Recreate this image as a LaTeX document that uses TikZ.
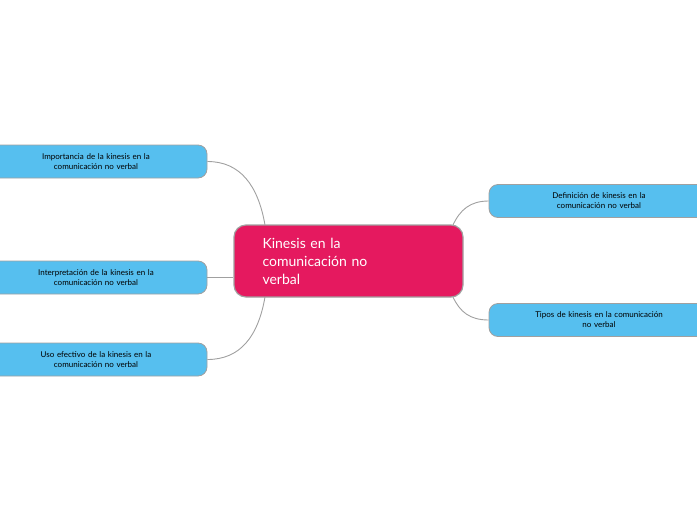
\documentclass[tikz,border=0pt]{standalone}
\usepackage{fontspec}
\setmainfont{Lato}
\definecolor{mag}{HTML}{E5195F}
\definecolor{sky}{HTML}{56BFEF}
\definecolor{edge}{HTML}{A0A0A0}
\begin{document}
\begin{tikzpicture}[x=1pt,y=-1pt,
  leaf/.style={draw=edge,line width=0.8pt,fill=sky,rounded corners=9pt,minimum height=33pt,align=center,font=\fontsize{8}{10}\selectfont,text width=190pt},
  conn/.style={draw=edge,line width=0.9pt}]
\useasboundingbox (0,0) rectangle (697,520);
\node[draw=edge,line width=1.2pt,fill=mag,rounded corners=12pt,minimum width=229pt,minimum height=72pt,text width=200pt,align=left,text=white,font=\fontsize{14}{18}\selectfont] (c) at (348.5,261) {\hspace*{14pt}\parbox{140pt}{Kinesis en la\\comunicación no\\verbal}};
\node[leaf,minimum width=222pt] (l1) at (96,161.5) {Importancia de la kinesis en la\\comunicación no verbal};
\node[leaf,minimum width=222pt] (l2) at (96,277.5) {Interpretación de la kinesis en la\\comunicación no verbal};
\node[leaf,minimum width=222pt] (l3) at (96,359.5) {Uso efectivo de la kinesis en la\\comunicación no verbal};
\node[leaf,minimum width=220pt] (r1) at (599,201) {Definición de kinesis en la\\comunicación no verbal};
\node[leaf,minimum width=220pt] (r2) at (599,320) {Tipos de kinesis en la comunicación\\no verbal};
\coordinate (a1) at (265,225);\coordinate (a3) at (265,297);
\coordinate (b1) at (453,225);\coordinate (b2) at (453,297);
\draw[conn] (a1) .. controls (258,185) and (240,161.5) .. (l1.east);
\draw[conn] (c.west |- l2.east) -- (l2.east);
\draw[conn] (a3) .. controls (258,337) and (240,359.5) .. (l3.east);
\draw[conn] (b1) .. controls (460,210) and (470,201) .. (r1.west);
\draw[conn] (b2) .. controls (460,312) and (470,320) .. (r2.west);
\end{tikzpicture}
\end{document}
